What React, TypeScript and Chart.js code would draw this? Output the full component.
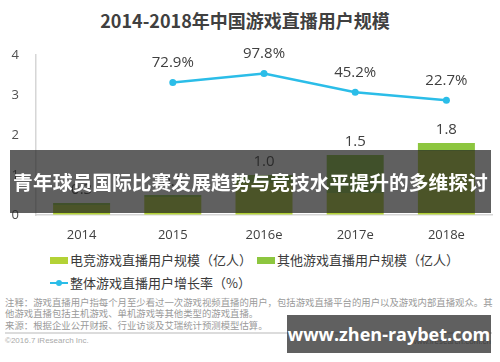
import { useEffect, useRef } from "react";
import { Chart, registerables } from "chart.js";

Chart.register(...registerables);

const categories = ["2014", "2015", "2016e", "2017e", "2018e"];
const esportsUsers = [0.25, 0.45, 0.8, 0.55, 1.6];
const otherUsers = [0.05, 0.05, 0.2, 0.95, 0.2];
const totalLabels = ["0.3", "0.5", "1.0", "1.5", "1.8"];
const growthRate: (number | null)[] = [null, 72.9, 97.8, 45.2, 22.7];
const growthLabels = ["", "72.9%", "97.8%", "45.2%", "22.7%"];

const FONT = "'Open Sans', 'Noto Sans CJK SC', sans-serif";
const CJK = "'Noto Sans CJK SC', 'Open Sans', sans-serif";
const C_ESPORT = "#b3d236";
const C_OTHER = "#8dc63f";
const C_LINE = "#2bbde8";
const OVERLAY = "rgba(34,34,34,0.72)";

const labelPlugin = {
  id: "valueLabels",
  afterDatasetsDraw(chart: any) {
    const ctx = chart.ctx;
    ctx.save();
    ctx.fillStyle = "#404040";
    ctx.font = `15px ${FONT}`;
    ctx.textAlign = "center";
    ctx.textBaseline = "middle";
    const topMeta = chart.getDatasetMeta(1);
    topMeta.data.forEach((el: any, i: number) => {
      ctx.fillText(totalLabels[i], el.x, el.y - 13);
    });
    const lineMeta = chart.getDatasetMeta(2);
    lineMeta.data.forEach((el: any, i: number) => {
      if (growthRate[i] == null) return;
      ctx.fillText(growthLabels[i], el.x, el.y - 20);
    });
    ctx.restore();
  },
};

export default function App() {
  const ref = useRef<HTMLCanvasElement | null>(null);

  useEffect(() => {
    document.body.style.margin = "0";
    if (!ref.current) return;
    const chart = new Chart(ref.current, {
      type: "bar",
      data: {
        labels: categories,
        datasets: [
          {
            label: "电竞游戏直播用户规模（亿人）",
            data: esportsUsers,
            backgroundColor: C_ESPORT,
            stack: "s",
            order: 1,
            barPercentage: 0.625,
            categoryPercentage: 1,
          },
          {
            label: "其他游戏直播用户规模（亿人）",
            data: otherUsers,
            backgroundColor: C_OTHER,
            stack: "s",
            order: 1,
            barPercentage: 0.625,
            categoryPercentage: 1,
          },
          {
            type: "line",
            label: "整体游戏直播用户增长率（%）",
            data: growthRate,
            yAxisID: "y1",
            borderColor: C_LINE,
            backgroundColor: C_LINE,
            borderWidth: 2.5,
            pointRadius: 3.5,
            pointBorderWidth: 0,
            pointBackgroundColor: C_LINE,
            tension: 0,
            order: 0,
          } as any,
        ],
      },
      options: {
        responsive: false,
        animation: false,
        devicePixelRatio: 1,
        layout: { padding: { top: 55, right: 8, left: 0, bottom: 0 } },
        plugins: {
          legend: { display: false },
          tooltip: { enabled: false },
          title: { display: false },
        },
        scales: {
          x: {
            stacked: true,
            grid: { display: true, drawOnChartArea: false, drawTicks: false },
            border: { display: true, color: "#d6d6d6", width: 1.5 },
            ticks: { color: "#404040", font: { size: 13, family: FONT }, padding: 12 },
            afterFit: (s: any) => {
              s.height = 30;
            },
          },
          y: {
            stacked: true,
            min: 0,
            max: 4,
            grid: { display: true, drawOnChartArea: false, drawTicks: false },
            border: { display: true, color: "#d6d6d6", width: 1.5 },
            ticks: { stepSize: 1, color: "#505050", font: { size: 13, family: FONT }, padding: 17 },
            afterFit: (s: any) => {
              s.width = 36;
            },
          },
          y1: {
            display: false,
            min: -300,
            max: 150,
          },
        },
      },
      plugins: [labelPlugin],
    } as any);
    return () => chart.destroy();
  }, []);

  const legendText: React.CSSProperties = {
    position: "absolute",
    fontFamily: CJK,
    fontSize: 13,
    color: "#3a3a3a",
    whiteSpace: "nowrap",
    lineHeight: "16px",
  };
  const noteStyle: React.CSSProperties = {
    position: "absolute",
    left: 5,
    fontFamily: CJK,
    fontSize: 9.4,
    color: "#9a9a9a",
    whiteSpace: "nowrap",
    lineHeight: "11px",
  };

  return (
    <div style={{ position: "relative", width: 500, height: 362, background: "#fff", overflow: "hidden" }}>
      <div
        style={{
          position: "absolute",
          left: 0,
          width: 490,
          top: 8,
          textAlign: "center",
          fontFamily: CJK,
          fontWeight: 700,
          fontSize: 18,
          lineHeight: "24px",
          color: "#404040",
        }}
      >
        2014-2018年中国游戏直播用户规模
      </div>
      <canvas ref={ref} width={500} height={245} style={{ position: "absolute", left: 0, top: 0, width: 500, height: 245 }} />

      {/* legend */}
      <div style={{ position: "absolute", left: 50, top: 257, width: 18, height: 7, background: C_ESPORT }} />
      <div style={{ ...legendText, left: 70, top: 252 }}>电竞游戏直播用户规模（亿人）</div>
      <div style={{ position: "absolute", left: 257, top: 257, width: 18, height: 7, background: C_OTHER }} />
      <div style={{ ...legendText, left: 277, top: 252 }}>其他游戏直播用户规模（亿人）</div>
      <div style={{ position: "absolute", left: 50, top: 282, width: 18, height: 2, background: C_LINE }} />
      <div style={{ position: "absolute", left: 55.5, top: 280, width: 6, height: 6, borderRadius: 3, background: C_LINE }} />
      <div style={{ ...legendText, left: 70, top: 275 }}>整体游戏直播用户增长率（%）</div>

      {/* notes */}
      <div style={{ ...noteStyle, top: 297 }}>
        注释：游戏直播用户指每个月至少看过一次游戏视频直播的用户，包括游戏直播平台的用户以及游戏内部直播观众。其
      </div>
      <div style={{ ...noteStyle, top: 308 }}>他游戏直播包括主机游戏、单机游戏等其他类型的游戏直播。</div>
      <div style={{ ...noteStyle, top: 320 }}>来源：根据企业公开财报、行业访谈及艾瑞统计预测模型估算。</div>
      <div style={{ position: "absolute", left: 5, top: 332, width: 487, height: 2, background: "#dcdcdc" }} />
      <div
        style={{
          position: "absolute",
          left: 5,
          top: 336,
          fontFamily: "'Liberation Sans', Arial, sans-serif",
          fontSize: 8,
          color: "#aaaaaa",
          lineHeight: "10px",
        }}
      >
        ©2016.7 iResearch Inc.
      </div>
      <div
        style={{
          position: "absolute",
          right: 9,
          top: 337,
          fontFamily: "'Liberation Sans', Arial, sans-serif",
          fontSize: 8,
          color: "#999999",
          lineHeight: "10px",
        }}
      >
        www.iresearch.com.cn
      </div>

      {/* banner overlay */}
      <div
        style={{
          position: "absolute",
          left: 10,
          top: 150,
          width: 481,
          height: 63,
          background: OVERLAY,
          display: "flex",
          alignItems: "center",
          justifyContent: "center",
          color: "#ffffff",
          fontFamily: CJK,
          fontWeight: 700,
          fontSize: 19.8,
          whiteSpace: "nowrap",
        }}
      >
        青年球员国际比赛发展趋势与竞技水平提升的多维探讨
      </div>

      {/* watermark */}
      <div
        style={{
          position: "absolute",
          left: 287,
          top: 315,
          width: 204,
          height: 38,
          background: OVERLAY,
          display: "flex",
          alignItems: "center",
          justifyContent: "center",
          color: "#ffffff",
          fontFamily: "'Open Sans', sans-serif",
          fontWeight: 700,
          fontSize: 18,
          whiteSpace: "nowrap",
        }}
      >
        www.zhen-raybet.com
      </div>
    </div>
  );
}
